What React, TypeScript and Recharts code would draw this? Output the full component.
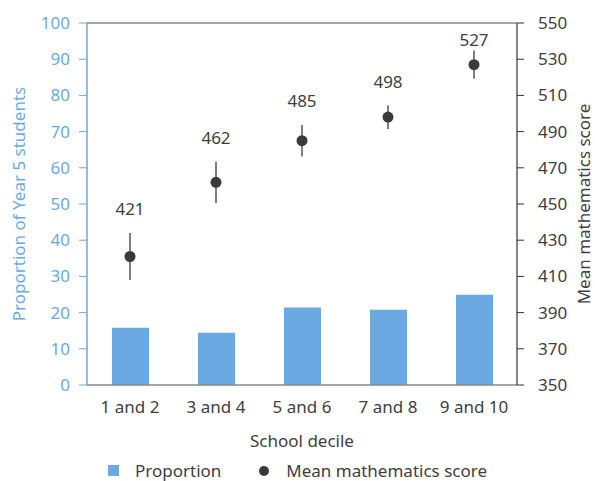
import React from 'react';
import { ComposedChart, Bar, Line, XAxis, YAxis, ErrorBar, LabelList, Legend, ReferenceLine } from 'recharts';

const deciles = ['1 and 2', '3 and 4', '5 and 6', '7 and 8', '9 and 10'];
const proportions = [15.8, 14.4, 21.4, 20.8, 24.9];
const scores = [421, 462, 485, 498, 527];
const scoreErrors = [13, 11.5, 8.7, 6.6, 7.8];

const leftTicks = [0, 10, 20, 30, 40, 50, 60, 70, 80, 90, 100];
const rightTicks = [350, 370, 390, 410, 430, 450, 470, 490, 510, 530, 550];

const data = deciles.map((d, i) => ({
  decile: d,
  proportion: proportions[i],
  score: scores[i],
  err: scoreErrors[i],
  upper: scores[i] + scoreErrors[i],
}));

const FONT = '"Noto Sans", "Open Sans", sans-serif';
const BLUE = '#6ba9e2';
const TEXT = '#404040';

const ScoreLabel = (props: any) => {
  const { x, y, index } = props;
  const ty = Math.max(y - 24, 39);
  return (
    <text x={x} y={ty} textAnchor="middle" dominantBaseline="central" fontSize={17} fill={TEXT} fontFamily={FONT}>
      {scores[index]}
    </text>
  );
};

const LegendContent = () => (
  <div style={{ display: 'flex', justifyContent: 'center', alignItems: 'center', fontFamily: FONT, fontSize: 17, color: TEXT, height: 17, lineHeight: '17px' }}>
    <span style={{ width: 11, height: 11, background: BLUE, display: 'inline-block' }} />
    <span style={{ marginLeft: 16 }}>Proportion</span>
    <span style={{ width: 10, height: 10, borderRadius: '50%', background: '#3a3a3a', display: 'inline-block', marginLeft: 38 }} />
    <span style={{ marginLeft: 17 }}>Mean mathematics score</span>
  </div>
);

export default function App() {
  return (
    <div style={{ position: 'absolute', left: 0, top: 0, width: 595, height: 481, background: '#fff', overflow: 'hidden' }}>
      <ComposedChart width={595} height={481} data={data} margin={{ top: 23, right: 0, bottom: 0, left: 0 }}>
        <XAxis
          dataKey="decile"
          height={66}
          tickLine={false}
          axisLine={{ stroke: '#888', strokeWidth: 1.5 }}
          tick={{ fill: TEXT, fontSize: 17, fontFamily: FONT }}
          tickMargin={10}
          label={(p: any) => {
            const vb = p.viewBox;
            return (
              <text x={vb.x + vb.width / 2} y={vb.y + 55} textAnchor="middle" dominantBaseline="central" fontSize={17} fill={TEXT} fontFamily={FONT}>
                School decile
              </text>
            );
          }}
        />
        <YAxis
          yAxisId="left"
          width={87}
          domain={[0, 100]}
          ticks={leftTicks}
          interval={0}
          tickSize={8}
          tickMargin={9}
          axisLine={{ stroke: BLUE, strokeWidth: 1.5 }}
          tickLine={{ stroke: BLUE }}
          tick={{ fill: BLUE, fontSize: 17, fontFamily: FONT }}
          label={(p: any) => {
            const vb = p.viewBox;
            const cx = vb.x + 18;
            const cy = vb.y + vb.height / 2;
            return (
              <text x={cx} y={cy} transform={`rotate(-90 ${cx} ${cy})`} textAnchor="middle" dominantBaseline="central" fontSize={17} fill={BLUE} fontFamily={FONT}>
                Proportion of Year 5 students
              </text>
            );
          }}
        />
        <YAxis
          yAxisId="right"
          orientation="right"
          width={78}
          domain={[350, 550]}
          ticks={rightTicks}
          interval={0}
          tickSize={7}
          tickMargin={14}
          axisLine={{ stroke: '#333', strokeWidth: 1.2 }}
          tickLine={{ stroke: '#333' }}
          tick={{ fill: TEXT, fontSize: 17, fontFamily: FONT }}
          label={(p: any) => {
            const vb = p.viewBox;
            const cx = vb.x + 66;
            const cy = vb.y + vb.height / 2;
            return (
              <text x={cx} y={cy} transform={`rotate(-90 ${cx} ${cy})`} textAnchor="middle" dominantBaseline="central" fontSize={17} fill={TEXT} fontFamily={FONT}>
                Mean mathematics score
              </text>
            );
          }}
        />
        <ReferenceLine yAxisId="left" y={100} stroke="#888" strokeWidth={1.5} />
        <Legend verticalAlign="bottom" height={30} content={<LegendContent />} wrapperStyle={{ bottom: 'auto', top: 462, left: 0, width: 595 }} />
        <Bar yAxisId="left" dataKey="proportion" fill={BLUE} barSize={37} isAnimationActive={false} />
        <Line
          yAxisId="right"
          dataKey="upper"
          stroke="none"
          dot={false}
          activeDot={false}
          isAnimationActive={false}
          legendType="none"
        >
          <LabelList dataKey="upper" content={<ScoreLabel />} />
        </Line>
        <Line
          yAxisId="right"
          dataKey="score"
          stroke="none"
          dot={{ r: 5.5, fill: '#3a3a3a', stroke: 'none' }}
          activeDot={false}
          isAnimationActive={false}
        >
          <ErrorBar dataKey="err" width={0} stroke="#808080" strokeWidth={2} direction="y" />
        </Line>
      </ComposedChart>
    </div>
  );
}
